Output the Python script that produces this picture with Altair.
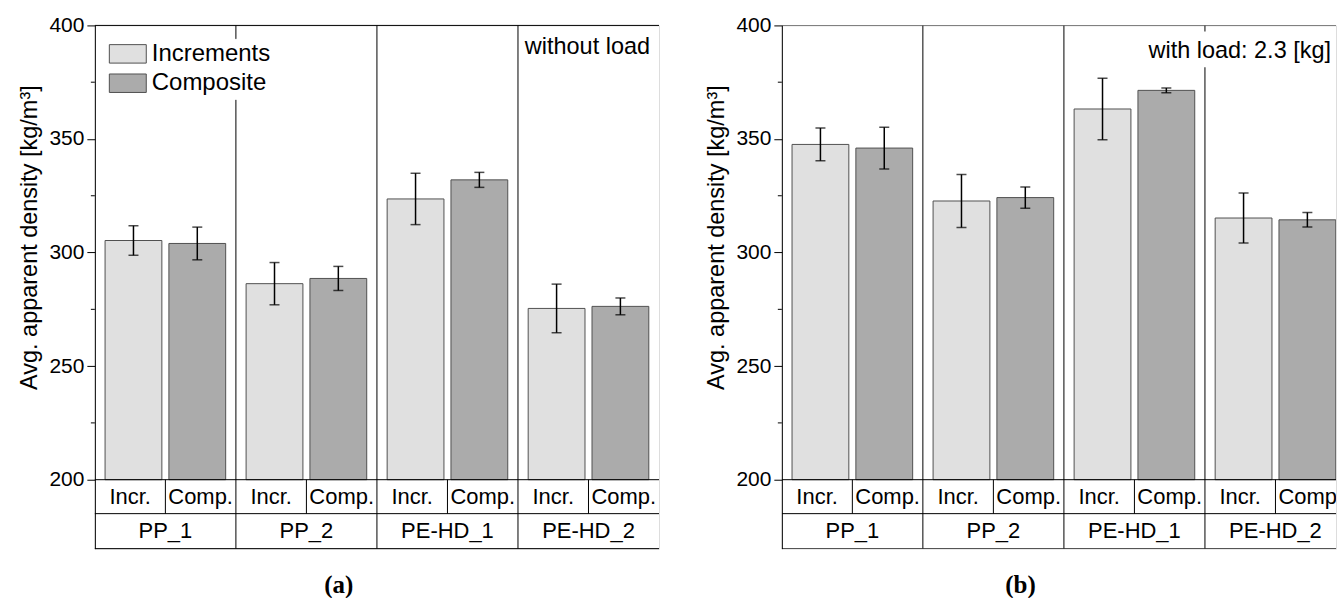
import altair as alt
import pandas as pd

FONT = "Liberation Sans"

groups = ["PP_1", "PP_2", "PE-HD_1", "PE-HD_2"]
types = ["Increments", "Composite"]
short = ["Incr.", "Comp."]
colors = ["#e0e0e0", "#ababab"]

# panel (a): without load
a_incr = [305.3, 286.3, 323.6, 275.4]
a_incr_err = [6.5, 9.3, 11.3, 10.7]
a_comp = [304.0, 288.6, 332.0, 276.3]
a_comp_err = [7.2, 5.3, 3.3, 3.7]

# panel (b): with load 2.3 kg
b_incr = [347.6, 322.7, 363.2, 315.2]
b_incr_err = [7.2, 11.7, 13.5, 11.0]
b_comp = [346.0, 324.2, 371.4, 314.4]
b_comp_err = [9.2, 4.7, 1.0, 3.2]

y_ticks = [200, 250, 300, 350, 400]
y_minor = [225, 275, 325, 375]

Y_BASE = 200
Y_TOP = 400
ROW_SPLIT = 185.05
Y_MIN = 169.65

PANEL_W = 565
PANEL_H = 524


def panel(incr, incr_err, comp, comp_err, note, note_x, note_y, label, width, note_bg=None):
    rows = []
    for g, vi, ei, vc, ec in zip(groups, incr, incr_err, comp, comp_err):
        rows.append(dict(group=g, type=types[0], short=short[0], value=vi, lo=vi - ei, hi=vi + ei))
        rows.append(dict(group=g, type=types[1], short=short[1], value=vc, lo=vc - ec, hi=vc + ec))
    df = pd.DataFrame(rows)
    clip = width < PANEL_W

    xs = alt.Scale(domain=groups, paddingInner=0, paddingOuter=0, range=[0, PANEL_W])

    def X(bp=None):
        if bp is None:
            return alt.X("group:N", sort=groups, scale=xs, axis=None)
        return alt.X("group:N", sort=groups, scale=xs, axis=None, bandPosition=bp)

    off = alt.XOffset("type:N", sort=types,
                      scale=alt.Scale(domain=types, paddingInner=0.11, paddingOuter=0.16))
    ys = alt.Scale(domain=[Y_MIN, Y_TOP], nice=False, zero=False)
    yaxis = alt.Axis(values=y_ticks, tickSize=8, tickColor="black", tickWidth=1,
                     domainColor="black", domainWidth=1, grid=False,
                     labelFont=FONT, labelFontSize=21, labelColor="black", labelPadding=3,
                     title="Avg. apparent density [kg/m³]", titleFont=FONT, titleFontSize=23.5,
                     titleFontWeight="normal", titleColor="black",
                     titleX=-58, titleY=212, titleAngle=270, titleBaseline="alphabetic",
                     titleAlign="center")

    def Yf(field):
        return alt.Y(field, scale=ys, axis=yaxis)

    def Yd(v):
        return alt.YDatum(v, scale=ys, axis=yaxis)

    base = alt.Chart(df)
    bars = base.mark_bar(stroke="#505050", strokeWidth=1, clip=clip).encode(
        x=X(), xOffset=off,
        y=Yf("value:Q"),
        y2=alt.datum(Y_BASE),
        color=alt.Color("type:N", sort=types, scale=alt.Scale(domain=types, range=colors),
                        legend=alt.Legend(orient="none", legendX=18, legendY=13.5, title=None,
                                          symbolType="M-2,-1H2V1H-2Z", symbolSize=342,
                                          symbolStrokeColor="#505050", symbolStrokeWidth=1,
                                          symbolOpacity=1,
                                          labelFont=FONT, labelFontSize=24, labelColor="black",
                                          labelOffset=12, rowPadding=5.4, padding=3,
                                          fillColor="white", strokeColor="white")),
    )
    err = base.mark_rule(color="black", strokeWidth=1.5, clip=clip).encode(
        x=X(), xOffset=off, y=Yf("lo:Q"), y2="hi:Q")
    tick_lo = base.mark_tick(color="black", thickness=1.5, size=10, clip=clip).encode(
        x=X(), xOffset=off, y=Yf("lo:Q"))
    tick_hi = base.mark_tick(color="black", thickness=1.5, size=10, clip=clip).encode(
        x=X(), xOffset=off, y=Yf("hi:Q"))

    gdf = pd.DataFrame({"group": groups})
    dividers = alt.Chart(pd.DataFrame({"group": groups[1:]})).mark_rule(
        color="black", strokeWidth=1, clip=clip).encode(x=X(0))
    cell_div = alt.Chart(gdf).mark_rule(color="black", strokeWidth=1, clip=clip).encode(
        x=X(0.5), y=Yd(Y_BASE), y2=alt.datum(ROW_SPLIT))
    hlines = alt.Chart(pd.DataFrame({"y": [Y_BASE, ROW_SPLIT, Y_TOP, Y_MIN]})).mark_rule(
        color="black", strokeWidth=1, clip=clip).encode(y=Yf("y:Q"))
    minor = alt.Chart(pd.DataFrame({"v": y_minor})).mark_rule(color="black", strokeWidth=1).encode(
        y=Yf("v:Q"), x=alt.value(0), x2=alt.value(-4))

    tdf = pd.DataFrame([dict(group=g, short=s, type=t) for g in groups for s, t in zip(short, types)])
    txt_kw = dict(font=FONT, fontSize=22, color="black", baseline="middle", align="center", clip=clip)
    t_incr = alt.Chart(tdf).transform_filter(alt.datum.type == types[0]).mark_text(**txt_kw).encode(
        x=X(0.25), y=Yd((Y_BASE + ROW_SPLIT) / 2), text="short:N")
    t_comp = alt.Chart(tdf).transform_filter(alt.datum.type == types[1]).mark_text(**txt_kw).encode(
        x=X(0.75), y=Yd((Y_BASE + ROW_SPLIT) / 2), text="short:N")
    t_grp = alt.Chart(gdf).mark_text(**txt_kw).encode(
        x=X(0.5), y=Yd((ROW_SPLIT + Y_MIN) / 2), text="group:N")

    layers = [bars, err, tick_lo, tick_hi, dividers, cell_div, hlines, minor, t_incr, t_comp, t_grp]
    ndf = pd.DataFrame({"t": [note]})
    if note_bg is not None:
        layers.append(alt.Chart(ndf).mark_rect(fill="white").encode(
            x=alt.value(note_bg[0]), x2=alt.value(note_bg[1]),
            y=alt.value(note_bg[2]), y2=alt.value(note_bg[3])))
    layers.append(alt.Chart(ndf).mark_text(font=FONT, fontSize=23.5, color="black",
                                           align="right", baseline="alphabetic").encode(
        x=alt.value(note_x), y=alt.value(note_y), text="t:N"))

    return alt.layer(*layers).properties(
        width=width, height=PANEL_H,
        title=alt.TitleParams(label, orient="bottom", anchor="middle", frame="bounds",
                              font="Liberation Serif", fontSize=25, fontWeight="bold",
                              color="black", offset=24),
    )


pa = panel(a_incr, a_incr_err, a_comp, a_comp_err, "without load", 556, 29, "(a)", PANEL_W)
pb = panel(b_incr, b_incr_err, b_comp, b_comp_err, "with load: 2.3 [kg]", 550, 33, "(b)", 555,
           note_bg=(362, 555, 6, 42))

chart = alt.hconcat(pa, pb, spacing=44).configure_view(stroke=None).configure(
    padding={"left": 17, "top": 13, "right": 0, "bottom": 0},
    background="white",
)

chart.save("out.html", embed_options={"renderer": "svg", "actions": False})
